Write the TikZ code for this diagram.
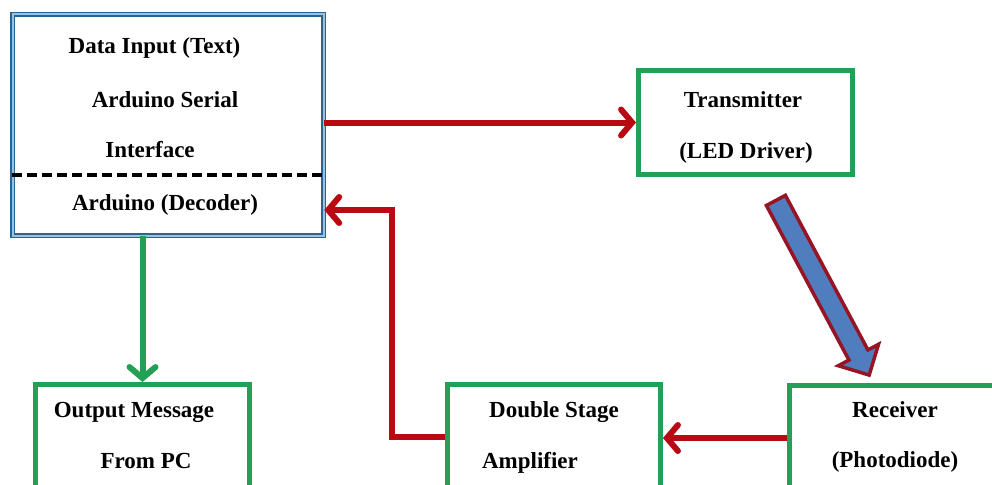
\documentclass[tikz,border=0pt]{standalone}
\usepackage{fontspec}
\setmainfont{Liberation Serif}
\usetikzlibrary{arrows.meta,shapes.arrows}
\definecolor{boxgreen}{RGB}{35,160,85}
\definecolor{linkred}{RGB}{185,10,20}
\definecolor{frameblue}{RGB}{40,100,150}
\definecolor{framelight}{RGB}{150,195,225}
\definecolor{sigblue}{RGB}{80,125,190}
\definecolor{sigrim}{RGB}{150,20,35}
\begin{document}
\begin{tikzpicture}[x=1pt,y=-1pt,
    inframe/.style={draw=frameblue,double=framelight,double distance=2pt,line width=1.5pt,inner sep=0pt},
    greenbox/.style={draw=boxgreen,line width=5pt,inner sep=0pt},
    txt/.style={font=\fontsize{23}{27}\selectfont\bfseries,anchor=base,inner sep=0pt},
    redlink/.style={draw=linkred,line width=6pt,line join=miter,-{Straight Barb[length=11pt,width=26pt,line cap=round]}},
    greenlink/.style={draw=boxgreen,line width=6pt,-{Straight Barb[length=11pt,width=26pt,line cap=round]}},
    sigarrow/.style={single arrow,draw=sigrim,fill=sigblue,line width=3.5pt,inner sep=9pt,
        single arrow head extend=12pt,minimum height=198pt,rotate=-61.9}]
    \useasboundingbox (0,0) rectangle (992,484);
    \clip (0,0) rectangle (992,484);
    % boxes
    \node[inframe,minimum width=311pt,minimum height=221pt] (inbox) at (168,125) {};
    \node[greenbox,minimum width=214pt,minimum height=104pt] (tx) at (745.5,122.5) {};
    \node[greenbox,minimum width=214pt,minimum height=105pt] (out) at (142.5,437) {};
    \node[greenbox,minimum width=213pt,minimum height=104pt] (amp) at (554,436.5) {};
    \node[greenbox,minimum width=221pt,minimum height=105pt] (rx) at (900,438) {};
    \coordinate (cut) at (0,175);
    \draw[line width=3.5pt,dash pattern=on 10pt off 5pt] (inbox.west |- cut) -- (inbox.east |- cut);
    % texts
    \node[txt] (in1) at (154.5,54) {Data Input (Text)};
    \node[txt] (in2) at (165,107) {Arduino Serial};
    \node[txt] (in3) at (150,157) {Interface};
    \node[txt] (dec) at (165,210) {Arduino (Decoder)};
    \node[txt] (tx1) at (743,107) {Transmitter};
    \node[txt] (tx2) at (746,158) {(LED Driver)};
    \node[txt] (out1) at (134,417) {Output Message};
    \node[txt] (out2) at (146,468) {From PC};
    \node[txt] (amp1) at (554,417) {Double Stage};
    \node[txt] (amp2) at (530,468) {Amplifier};
    \node[txt] (rx1) at (895,417) {Receiver};
    \node[txt] (rx2) at (895,467) {(Photodiode)};
    % links
    \node[sigarrow] (sig) at (820,283) {};
    \coordinate (bend) at (392,210);
    \draw[redlink] (inbox.east |- tx.west) -- (tx.west);
    \draw[redlink] (rx.west) -- (amp.east |- rx.west);
    \draw[redlink] (amp.west) -| (bend) -- (inbox.east |- bend);
    \draw[greenlink] (inbox.south -| out.north) -- (out.north);
\end{tikzpicture}
\end{document}
